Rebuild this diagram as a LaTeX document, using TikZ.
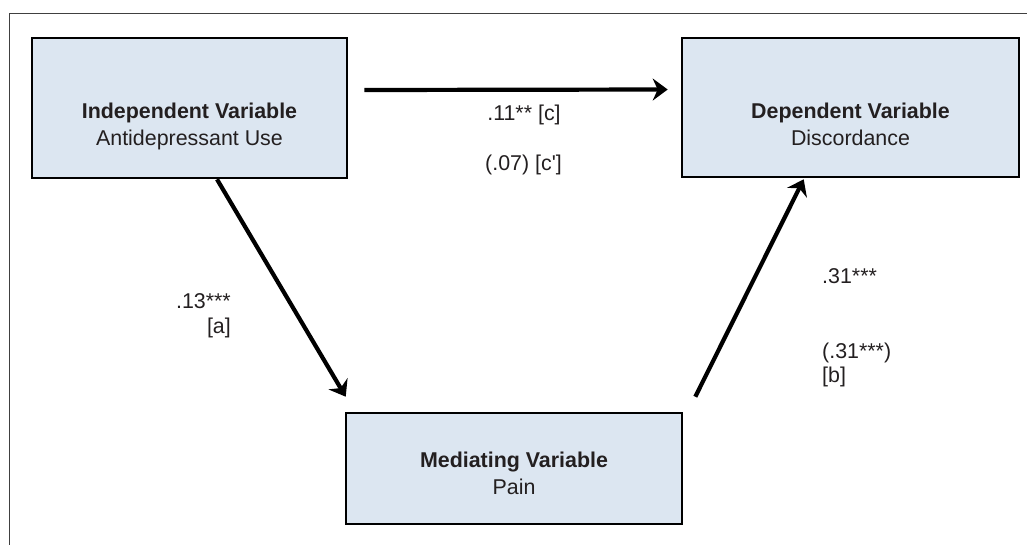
\documentclass[tikz,border=0pt]{standalone}
\usepackage{fontspec}
\setmainfont{Liberation Sans}[Ligatures=TeXOff]
\usetikzlibrary{arrows.meta}
\definecolor{boxfill}{HTML}{DCE6F1}
\definecolor{framegray}{HTML}{404040}
\definecolor{txt}{HTML}{231F20}
\tikzset{
  varbox/.style={draw=black, line width=2.6pt, fill=boxfill, inner sep=0pt},
  vartext/.style={align=center, inner sep=0pt, anchor=north, text=txt,
    font=\fontsize{21.4}{27}\selectfont},
  coef/.style={inner sep=0pt, anchor=base, text=txt, font=\fontsize{21.4}{24}\selectfont},
  arr/.style={line width=4.2pt, -{Stealth[length=15pt, width=22pt, inset=5pt]}},
}
\begin{document}
\begin{tikzpicture}[x=1pt, y=-1pt]
\useasboundingbox (0,0) rectangle (1027,544);
% outer frame (left and top edges visible)
\draw[framegray, line width=1.8pt] (9.5,545) -- (9.5,13.5) -- (1028,13.5);
% boxes
\node[varbox, minimum width=315pt, minimum height=140pt] (ind) at (189.5,108) {};
\node[varbox, minimum width=337pt, minimum height=139pt] (dep) at (850.5,107.5) {};
\node[varbox, minimum width=336pt, minimum height=111pt] (med) at (514,468.5) {};
% box texts
\node[vartext] (indT) at (189.5,102.5) {\textbf{Independent Variable}\\Antidepressant Use};
\node[vartext] (depT) at (850.5,102.5) {\textbf{Dependent Variable}\\Discordance};
\node[vartext] (medT) at (514,451.5) {\textbf{Mediating Variable}\\Pain};
% connectors
\draw[arr] ([xshift=16pt,yshift=18pt]ind.east) -- ([xshift=-13pt,yshift=18pt]dep.west);
\draw[arr] ([xshift=27.5pt]ind.south) -- ([xshift=1pt,yshift=15pt]med.north west);
\draw[arr] ([xshift=12pt,yshift=15pt]med.north east) -- ([xshift=123pt,yshift=-1pt]dep.south west);
% coefficients
\node[coef] (c1) at (524,120) {.11** [c]};
\node[coef] (c2) at (523.5,170) {(.07) [c']};
\node[coef, anchor=base east] (a1) at (231,308) {.13***};
\node[coef, anchor=base east] (a2) at (231,333) {[a]};
\node[coef, anchor=base west] (b1) at (822,283) {.31***};
\node[coef, anchor=base west] (b2) at (822,358.5) {(.31***)};
\node[coef, anchor=base west] (b3) at (822,382) {[b]};
\end{tikzpicture}
\end{document}
